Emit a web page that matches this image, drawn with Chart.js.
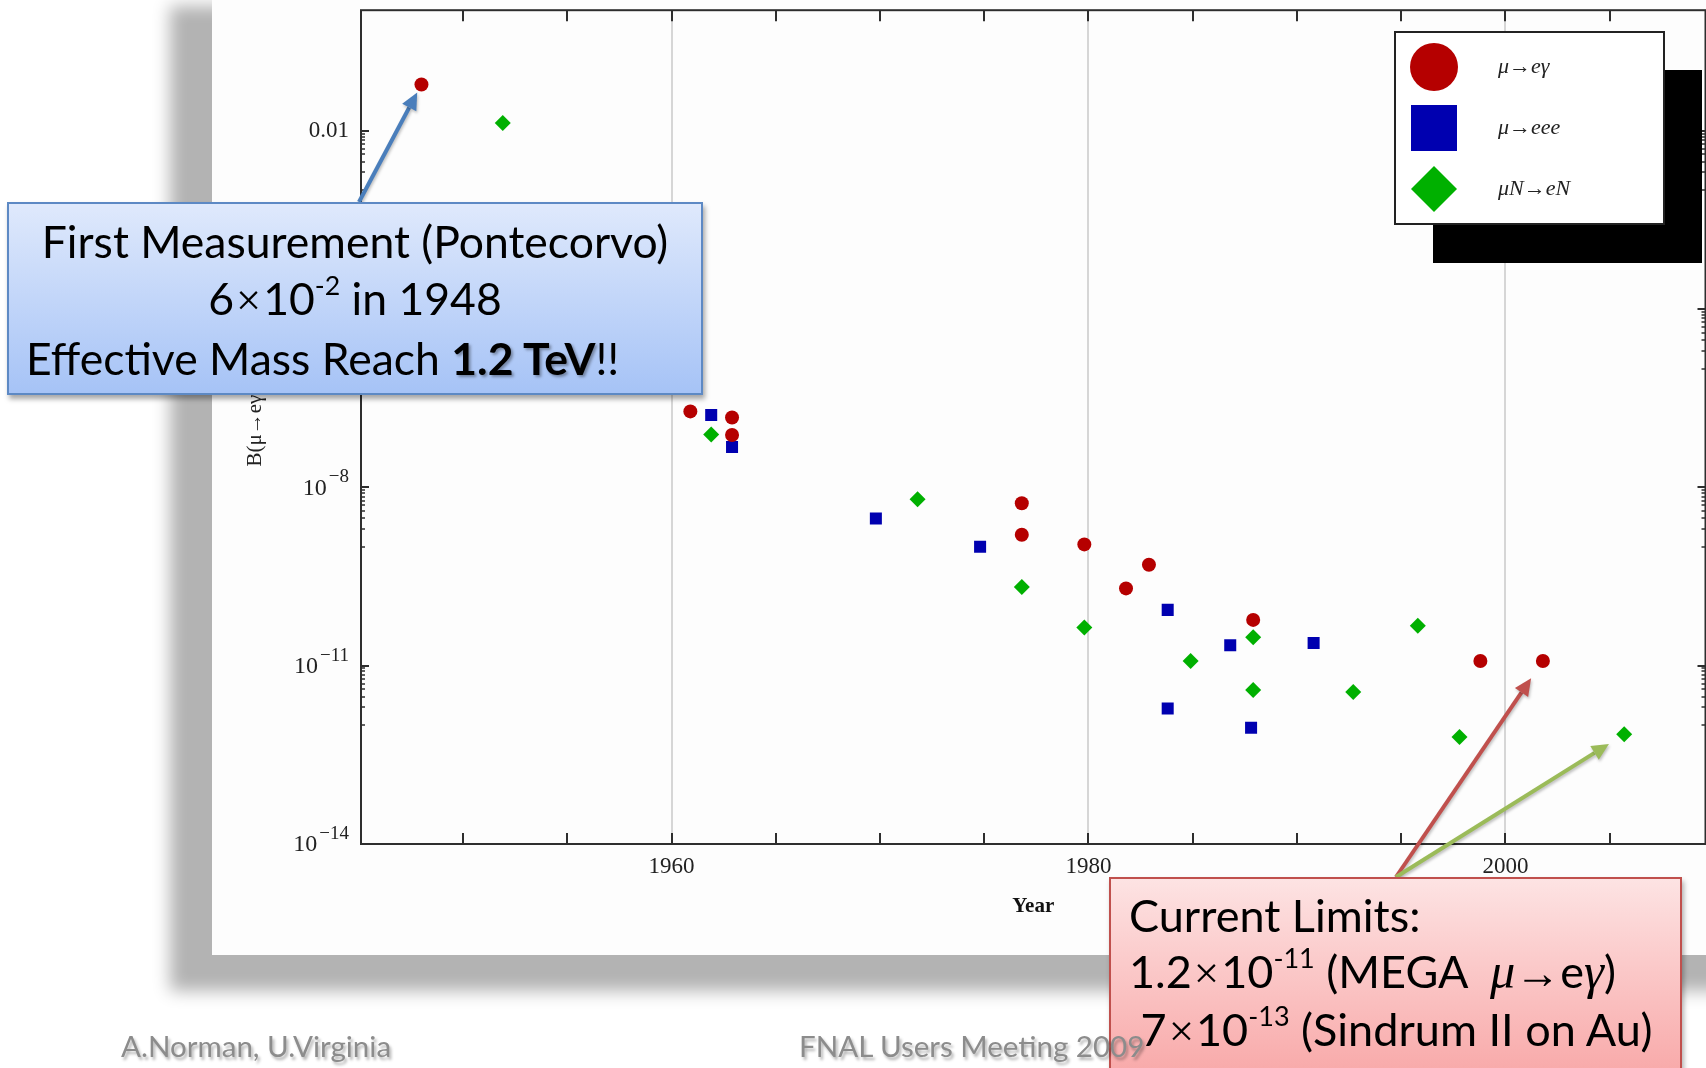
<!DOCTYPE html>
<html>
<head>
<meta charset="utf-8">
<script src="https://cdn.jsdelivr.net/npm/chart.js@4/dist/chart.umd.min.js"></script>
<style>
  html, body { margin: 0; padding: 0; width: 1706px; height: 1068px; overflow: hidden; background: #fff; }
  #panel { position: absolute; left: 212px; top: -30px; width: 1600px; height: 985px;
           background: #fdfdfd; box-shadow: -42px 36px 16px #b3b3b3; }
  #plot { position: absolute; left: 0; top: 0; }
  .note { position: absolute; box-sizing: border-box; font-family: Lato, "Open Sans", sans-serif;
          font-size: 44.5px; color: #000; line-height: 57px; }
  .note .ln { white-space: nowrap; }
  .note sup { font-size: 0.6em; position: relative; top: -0.15em; line-height: 0; vertical-align: super; }
  .note .x { font-family: "Liberation Serif", "DejaVu Serif", serif; margin: 0 2px; }
  .blue { left: 7px; top: 202px; width: 696px; height: 193px; padding-top: 8px;
          background: linear-gradient(#dfe9fc, #a6c3f6); border: 2px solid #5d89c4;
          box-shadow: 2px 4px 5px rgba(0,0,0,0.35); }
  .red { left: 1109px; top: 877px; width: 573px; height: 210px; padding: 8px 0 0 18px; line-height: 56px;
         font-size: 45px; background: linear-gradient(#fde3e3, #f8a6a6); border: 2px solid #c0504d;
         box-shadow: 2px 4px 5px rgba(0,0,0,0.3); }
  .gk { font-family: "Liberation Serif", "DejaVu Serif", serif; font-style: italic; font-size: 1.12em; }
  .ar { font-family: "Liberation Serif", "DejaVu Serif", serif; }
  .tev { font-weight: bold; text-shadow: 2px 2px 3px rgba(0,0,0,0.35); }
  .foot { position: absolute; top: 1028px; font-family: Lato, "Open Sans", sans-serif; font-size: 29.5px;
          color: #8c8c8c; text-shadow: 2px 3px 3px rgba(0,0,0,0.3); white-space: nowrap; z-index: 3; }
</style>
</head>
<body>
<div id="panel"></div>
<canvas id="plot" width="1714" height="1068"></canvas>

<div class="note blue">
  <div class="ln" style="text-align:center">First Measurement (Pontecorvo)</div>
  <div class="ln" style="text-align:center">6<span class="x">×</span>10<sup>-2</sup> in 1948</div>
  <div class="ln" style="padding-left:17px">Effective Mass Reach <span class="tev">1.2 TeV</span>!!</div>
</div>

<div class="note red">
  <div class="ln">Current Limits:</div>
  <div class="ln">1.2<span class="x">×</span>10<sup>-11</sup> (MEGA&nbsp; <span class="gk">μ</span><span class="ar">→</span>e<span class="gk">γ</span>)</div>
  <div class="ln">&nbsp;7<span class="x">×</span>10<sup>-13</sup> (Sindrum II on Au)</div>
</div>

<div class="foot" style="left:121px">A.Norman, U.Virginia</div>
<div class="foot" style="left:799px">FNAL Users Meeting 2009</div>

<script>
// μ→eγ upper limits
const megYears  = [1948, 1960.9, 1962.9, 1962.9, 1976.8, 1976.8, 1979.8, 1982.9, 1981.8, 1987.9, 1998.8, 2001.8];
const megLimits = [6e-2, 1.9e-7, 1.5e-7, 7.6e-8, 5.4e-9, 1.6e-9, 1.1e-9, 5e-10, 2e-10, 5.9e-11, 1.2e-11, 1.2e-11];

// μ→eee upper limits
const eeeYears  = [1961.9, 1962.9, 1969.8, 1974.8, 1983.8, 1986.8, 1990.8, 1983.8, 1987.8];
const eeeLimits = [1.65e-7, 4.8e-8, 3e-9, 1e-9, 8.7e-11, 2.2e-11, 2.4e-11, 1.9e-12, 9e-13];

// μN→eN conversion limits
const convYears  = [1951.9, 1961.9, 1971.8, 1976.8, 1979.8, 1984.9, 1987.9, 1987.9, 1992.7, 1995.8, 1997.8, 2005.7];
const convLimits = [1.35e-2, 7.8e-8, 6.3e-9, 2.1e-10, 4.4e-11, 1.2e-11, 3e-11, 3.9e-12, 3.6e-12, 4.7e-11, 6.3e-13, 7e-13];

const seriesLabels = ['μ→eγ', 'μ→eee', 'μN→eN'];

// axis ticks
const xLabelYears = [1960, 1980, 2000];
const xFrameTicks = [1950, 1955, 1960, 1965, 1970, 1975, 1980, 1985, 1990, 1995, 2000, 2005];
const yTickValues = [1e-2, 1e-5, 1e-8, 1e-11, 1e-14];
const yTickExponents = [null, '−5', '−8', '−11', '−14'];   // null -> plain "0.01"

const toPoints = (xs, ys) => xs.map((x, i) => ({ x: x, y: ys[i] }));

const serif = '"Liberation Serif", "DejaVu Serif", serif';

// frame with inward ticks, plus the power-of-ten labels on the left
const frameTicks = {
  id: 'frameTicks',
  beforeDatasetsDraw(chart) {
    const { ctx, chartArea: a, scales: { x, y } } = chart;
    ctx.save();
    ctx.strokeStyle = '#2e2e2e';
    ctx.lineWidth = 2;
    ctx.strokeRect(a.left, a.top, a.right - a.left, a.bottom - a.top);
    ctx.beginPath();
    xFrameTicks.forEach(v => {
      const px = Math.round(x.getPixelForValue(v));
      ctx.moveTo(px, a.bottom); ctx.lineTo(px, a.bottom - 11);
      ctx.moveTo(px, a.top); ctx.lineTo(px, a.top + 11);
    });
    yTickValues.forEach(v => {
      const py = Math.round(y.getPixelForValue(v));
      ctx.moveTo(a.left, py); ctx.lineTo(a.left + 8, py);
      ctx.moveTo(a.right, py); ctx.lineTo(a.right - 8, py);
    });
    ctx.stroke();
    ctx.lineWidth = 1.5;
    ctx.beginPath();
    yTickValues.forEach(v => {
      for (let m = 1; m <= 9; m++) {
        const mv = v * m / 10;
        if (mv < y.min) continue;
        const py = Math.round(y.getPixelForValue(mv));
        ctx.moveTo(a.left, py); ctx.lineTo(a.left + 4, py);
        ctx.moveTo(a.right, py); ctx.lineTo(a.right - 4, py);
      }
    });
    ctx.stroke();

    // tick labels with raised exponents
    ctx.fillStyle = '#222';
    ctx.textAlign = 'right';
    ctx.textBaseline = 'middle';
    const right = a.left - 12;
    yTickValues.forEach((v, i) => {
      const py = y.getPixelForValue(v);
      const exp = yTickExponents[i];
      if (exp === null) {
        ctx.font = '23px ' + serif;
        ctx.fillText('0.01', right, py);
        return;
      }
      ctx.font = '19px ' + serif;
      const ew = ctx.measureText(exp).width;
      ctx.fillText(exp, right, py - 10);
      ctx.font = '24px ' + serif;
      ctx.fillText('10', right - ew - 2, py + 1);
    });
    ctx.restore();
  }
};

// callout arrows: tail at a callout box, head just short of a data point
const arrows = [
  { from: [359, 202], ds: 0, idx: 0, gap: 9, color: '#4a7ebb' },
  { from: [1396, 877], ds: 0, idx: 11, gap: 21, color: '#c0504d' },
  { from: [1396, 877], ds: 2, idx: 11, gap: 18, color: '#9bbb59' }
];

const calloutArrows = {
  id: 'calloutArrows',
  afterDraw(chart) {
    const ctx = chart.ctx;
    ctx.save();
    ctx.shadowColor = 'rgba(0,0,0,0.25)';
    ctx.shadowBlur = 3;
    ctx.shadowOffsetX = 1;
    ctx.shadowOffsetY = 2;
    arrows.forEach(a => {
      const pt = chart.getDatasetMeta(a.ds).data[a.idx];
      const dx = pt.x - a.from[0], dy = pt.y - a.from[1];
      const len = Math.hypot(dx, dy);
      const ux = dx / len, uy = dy / len;
      const tx = pt.x - ux * a.gap, ty = pt.y - uy * a.gap;
      const hl = 17, hw = 8;
      const bx = tx - ux * hl, by = ty - uy * hl;
      ctx.strokeStyle = a.color;
      ctx.fillStyle = a.color;
      ctx.lineWidth = 4;
      ctx.beginPath();
      ctx.moveTo(a.from[0], a.from[1]);
      ctx.lineTo(bx, by);
      ctx.stroke();
      ctx.beginPath();
      ctx.moveTo(tx, ty);
      ctx.lineTo(bx - uy * hw, by + ux * hw);
      ctx.lineTo(bx + uy * hw, by - ux * hw);
      ctx.closePath();
      ctx.fill();
    });
    ctx.restore();
  }
};

// framed legend with a solid black drop shadow
const boxLegend = {
  id: 'boxLegend',
  afterDraw(chart) {
    const ctx = chart.ctx;
    const rows = [67, 128, 189];
    ctx.save();
    ctx.fillStyle = '#000';
    ctx.fillRect(1433, 70, 269, 193);
    ctx.fillStyle = '#fff';
    ctx.fillRect(1395, 32, 269, 192);
    ctx.strokeStyle = '#222';
    ctx.lineWidth = 2;
    ctx.strokeRect(1395, 32, 269, 192);
    chart.data.datasets.forEach((ds, i) => {
      const cy = rows[i], cx = 1434;
      ctx.fillStyle = ds.backgroundColor;
      ctx.beginPath();
      if (ds.pointStyle === 'circle') {
        ctx.arc(cx, cy, 24, 0, Math.PI * 2);
      } else if (ds.pointStyle === 'rect') {
        ctx.rect(cx - 23, cy - 23, 46, 46);
      } else {
        ctx.moveTo(cx, cy - 23); ctx.lineTo(cx + 23, cy);
        ctx.lineTo(cx, cy + 23); ctx.lineTo(cx - 23, cy);
        ctx.closePath();
      }
      ctx.fill();
      ctx.fillStyle = '#222';
      ctx.font = 'italic 22px ' + serif;
      ctx.textBaseline = 'middle';
      ctx.fillText(ds.label, 1498, cy);
    });
    ctx.restore();
  }
};

new Chart(document.getElementById('plot'), {
  type: 'scatter',
  data: {
    datasets: [
      { label: seriesLabels[0], data: toPoints(megYears, megLimits), pointStyle: 'circle',
        pointRadius: 7, backgroundColor: '#b50000', borderWidth: 0 },
      { label: seriesLabels[1], data: toPoints(eeeYears, eeeLimits), pointStyle: 'rect',
        pointRadius: 8.5, backgroundColor: '#0000b0', borderWidth: 0 },
      { label: seriesLabels[2], data: toPoints(convYears, convLimits), pointStyle: 'rectRot',
        pointRadius: 8, backgroundColor: '#00b000', borderWidth: 0 }
    ]
  },
  options: {
    responsive: false,
    animation: false,
    layout: { padding: { left: 240, top: 8, right: 1, bottom: 144 } },
    plugins: { legend: { display: false }, tooltip: { enabled: false } },
    scales: {
      x: {
        type: 'linear', min: 1945.1, max: 2009.6,
        afterBuildTicks: s => { s.ticks = xLabelYears.map(v => ({ value: v })); },
        afterFit: s => { s.height = 80; },
        grid: { color: '#d6d6d6', lineWidth: 2, drawTicks: false },
        border: { display: false },
        ticks: { padding: 9, color: '#222', font: { family: serif, size: 23 }, callback: v => String(v) },
        title: { display: true, text: 'Year', color: '#111', padding: { top: 0, bottom: 5 },
                 font: { family: serif, size: 21, weight: 'bold' } }
      },
      y: {
        type: 'logarithmic', min: 1e-14, max: 1.07,
        afterBuildTicks: s => { s.ticks = yTickValues.map(v => ({ value: v })); },
        afterFit: s => { s.width = 121; },
        grid: { display: false, drawTicks: false },
        border: { display: false },
        ticks: { callback: () => '' },
        title: { display: true, text: 'B(μ→eγ)', color: '#222', padding: 3,
                 font: { family: serif, size: 21 } }
      }
    }
  },
  plugins: [frameTicks, calloutArrows, boxLegend]
});
</script>
</body>
</html>
